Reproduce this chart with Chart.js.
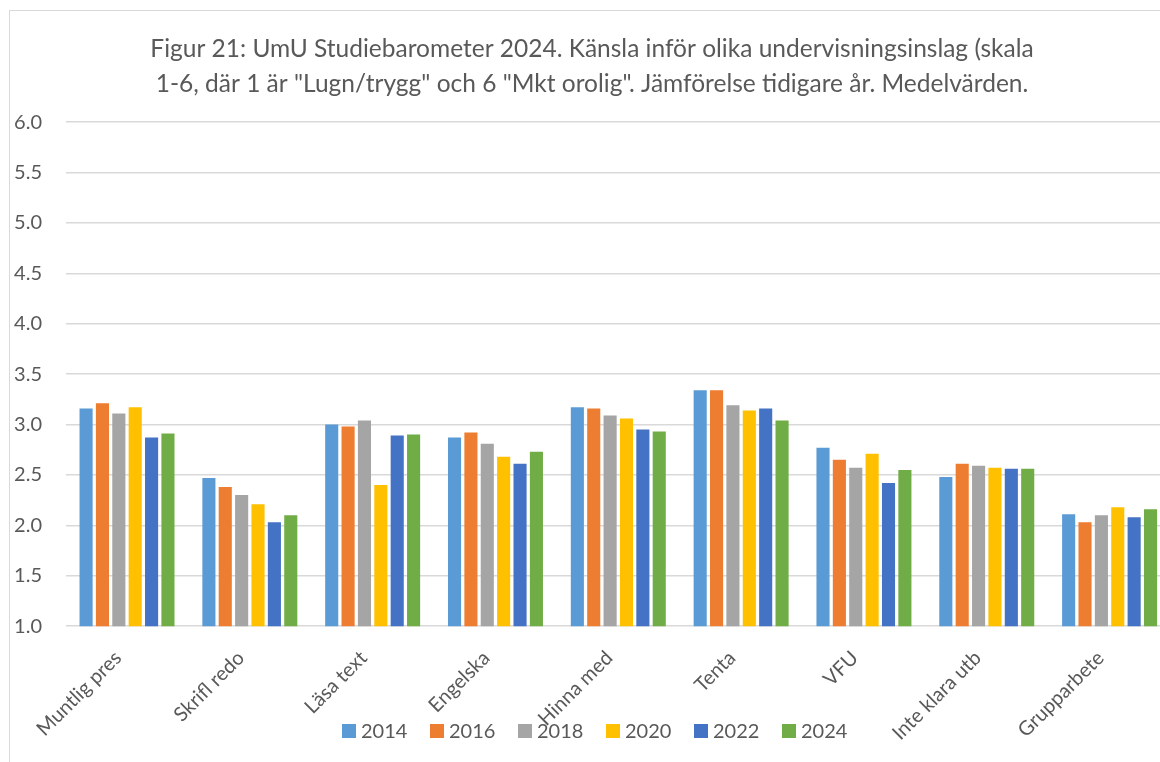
<!DOCTYPE html>
<html>
<head>
<meta charset="utf-8">
<script src="https://cdn.jsdelivr.net/npm/chart.js@4"></script>
<style>
  html, body { margin: 0; padding: 0; background: #fff; overflow: hidden; }
  #frame {
    position: absolute; left: 9px; top: 10px; width: 1200px; height: 800px;
    border-left: 1px solid #d9d9d9; border-top: 1px solid #d9d9d9;
  }
  #wrap { position: absolute; left: 0; top: 0; width: 1171px; height: 762px; }
</style>
</head>
<body>
<div id="frame"></div>
<div id="wrap"><canvas id="chart"></canvas></div>
<script>
// Categories and yearly means
const categories = [
  "Muntlig pres", "Skrifl redo", "Läsa text", "Engelska", "Hinna med",
  "Tenta", "VFU", "Inte klara utb", "Grupparbete"
];
const years = ["2014", "2016", "2018", "2020", "2022", "2024"];

const values2014 = [3.16, 2.47, 3.00, 2.87, 3.17, 3.34, 2.77, 2.48, 2.11];
const values2016 = [3.21, 2.38, 2.98, 2.92, 3.16, 3.34, 2.65, 2.61, 2.03];
const values2018 = [3.11, 2.30, 3.04, 2.81, 3.09, 3.19, 2.57, 2.59, 2.10];
const values2020 = [3.17, 2.21, 2.40, 2.68, 3.06, 3.14, 2.71, 2.57, 2.18];
const values2022 = [2.87, 2.03, 2.89, 2.61, 2.95, 3.16, 2.42, 2.56, 2.08];
const values2024 = [2.91, 2.10, 2.90, 2.73, 2.93, 3.04, 2.55, 2.56, 2.16];

const yTicks = [1.0, 1.5, 2.0, 2.5, 3.0, 3.5, 4.0, 4.5, 5.0, 5.5, 6.0];

const colors = ["#5B9BD5", "#ED7D31", "#A5A5A5", "#FFC000", "#4472C4", "#70AD47"];
const series = [values2014, values2016, values2018, values2020, values2022, values2024];

const FONT = "Lato, 'Open Sans', sans-serif";
const TEXT = "#595959";

// Excel places the legend over the rotated labels, so draw it by hand
const bottomLegend = {
  id: "bottomLegend",
  afterDraw(chart) {
    const ctx = chart.ctx;
    const items = chart.data.datasets;
    const step = 88;
    const startX = 342;
    const y = 731;
    ctx.save();
    ctx.font = "20px " + FONT;
    ctx.textBaseline = "middle";
    ctx.textAlign = "left";
    items.forEach((ds, i) => {
      const x = startX + i * step;
      ctx.fillStyle = ds.backgroundColor;
      ctx.fillRect(x, y - 7, 14, 14);
      ctx.fillStyle = TEXT;
      ctx.fillText(ds.label, x + 19, y + 1);
    });
    ctx.restore();
  }
};

new Chart(document.getElementById("chart"), {
  type: "bar",
  data: {
    labels: categories,
    datasets: years.map((y, i) => ({
      label: y,
      data: series[i],
      backgroundColor: colors[i],
      categoryPercentage: 0.8,
      barPercentage: 0.8
    }))
  },
  options: {
    responsive: true,
    maintainAspectRatio: false,
    animation: false,
    layout: { padding: { left: 13, right: 0, top: 0, bottom: 5 } },
    plugins: {
      legend: { display: false },
      tooltip: { enabled: false },
      title: {
        display: true,
        text: [
          "Figur 21: UmU Studiebarometer 2024. Känsla inför olika undervisningsinslag (skala",
          "1-6, där 1 är \"Lugn/trygg\" och 6 \"Mkt orolig\". Jämförelse tidigare år. Medelvärden."
        ],
        color: TEXT,
        font: { family: FONT, size: 24.5, weight: "normal", lineHeight: 1.45 },
        padding: { top: 31, bottom: 20 }
      }
    },
    scales: {
      x: {
        grid: { display: false },
        border: { display: false },
        ticks: {
          color: TEXT,
          font: { family: FONT, size: 20 },
          maxRotation: 45,
          minRotation: 45,
          padding: 12,
          labelOffset: -9,
          autoSkip: false
        },
        // rotated labels may hang past the plot edges, like in Excel
        afterFit(scale) {
          scale.paddingLeft = 0;
          scale.paddingRight = 0;
        }
      },
      y: {
        min: 1,
        max: 6,
        afterBuildTicks(axis) {
          axis.ticks = yTicks.map(v => ({ value: v }));
        },
        afterFit(scale) {
          scale.width = 52.6;
        },
        grid: { color: "#d9d9d9", lineWidth: 1.5, drawTicks: false },
        border: { display: false },
        ticks: {
          color: TEXT,
          font: { family: FONT, size: 20 },
          padding: 23.6,
          callback: v => v.toFixed(1)
        }
      }
    }
  },
  plugins: [bottomLegend]
});
</script>
</body>
</html>
